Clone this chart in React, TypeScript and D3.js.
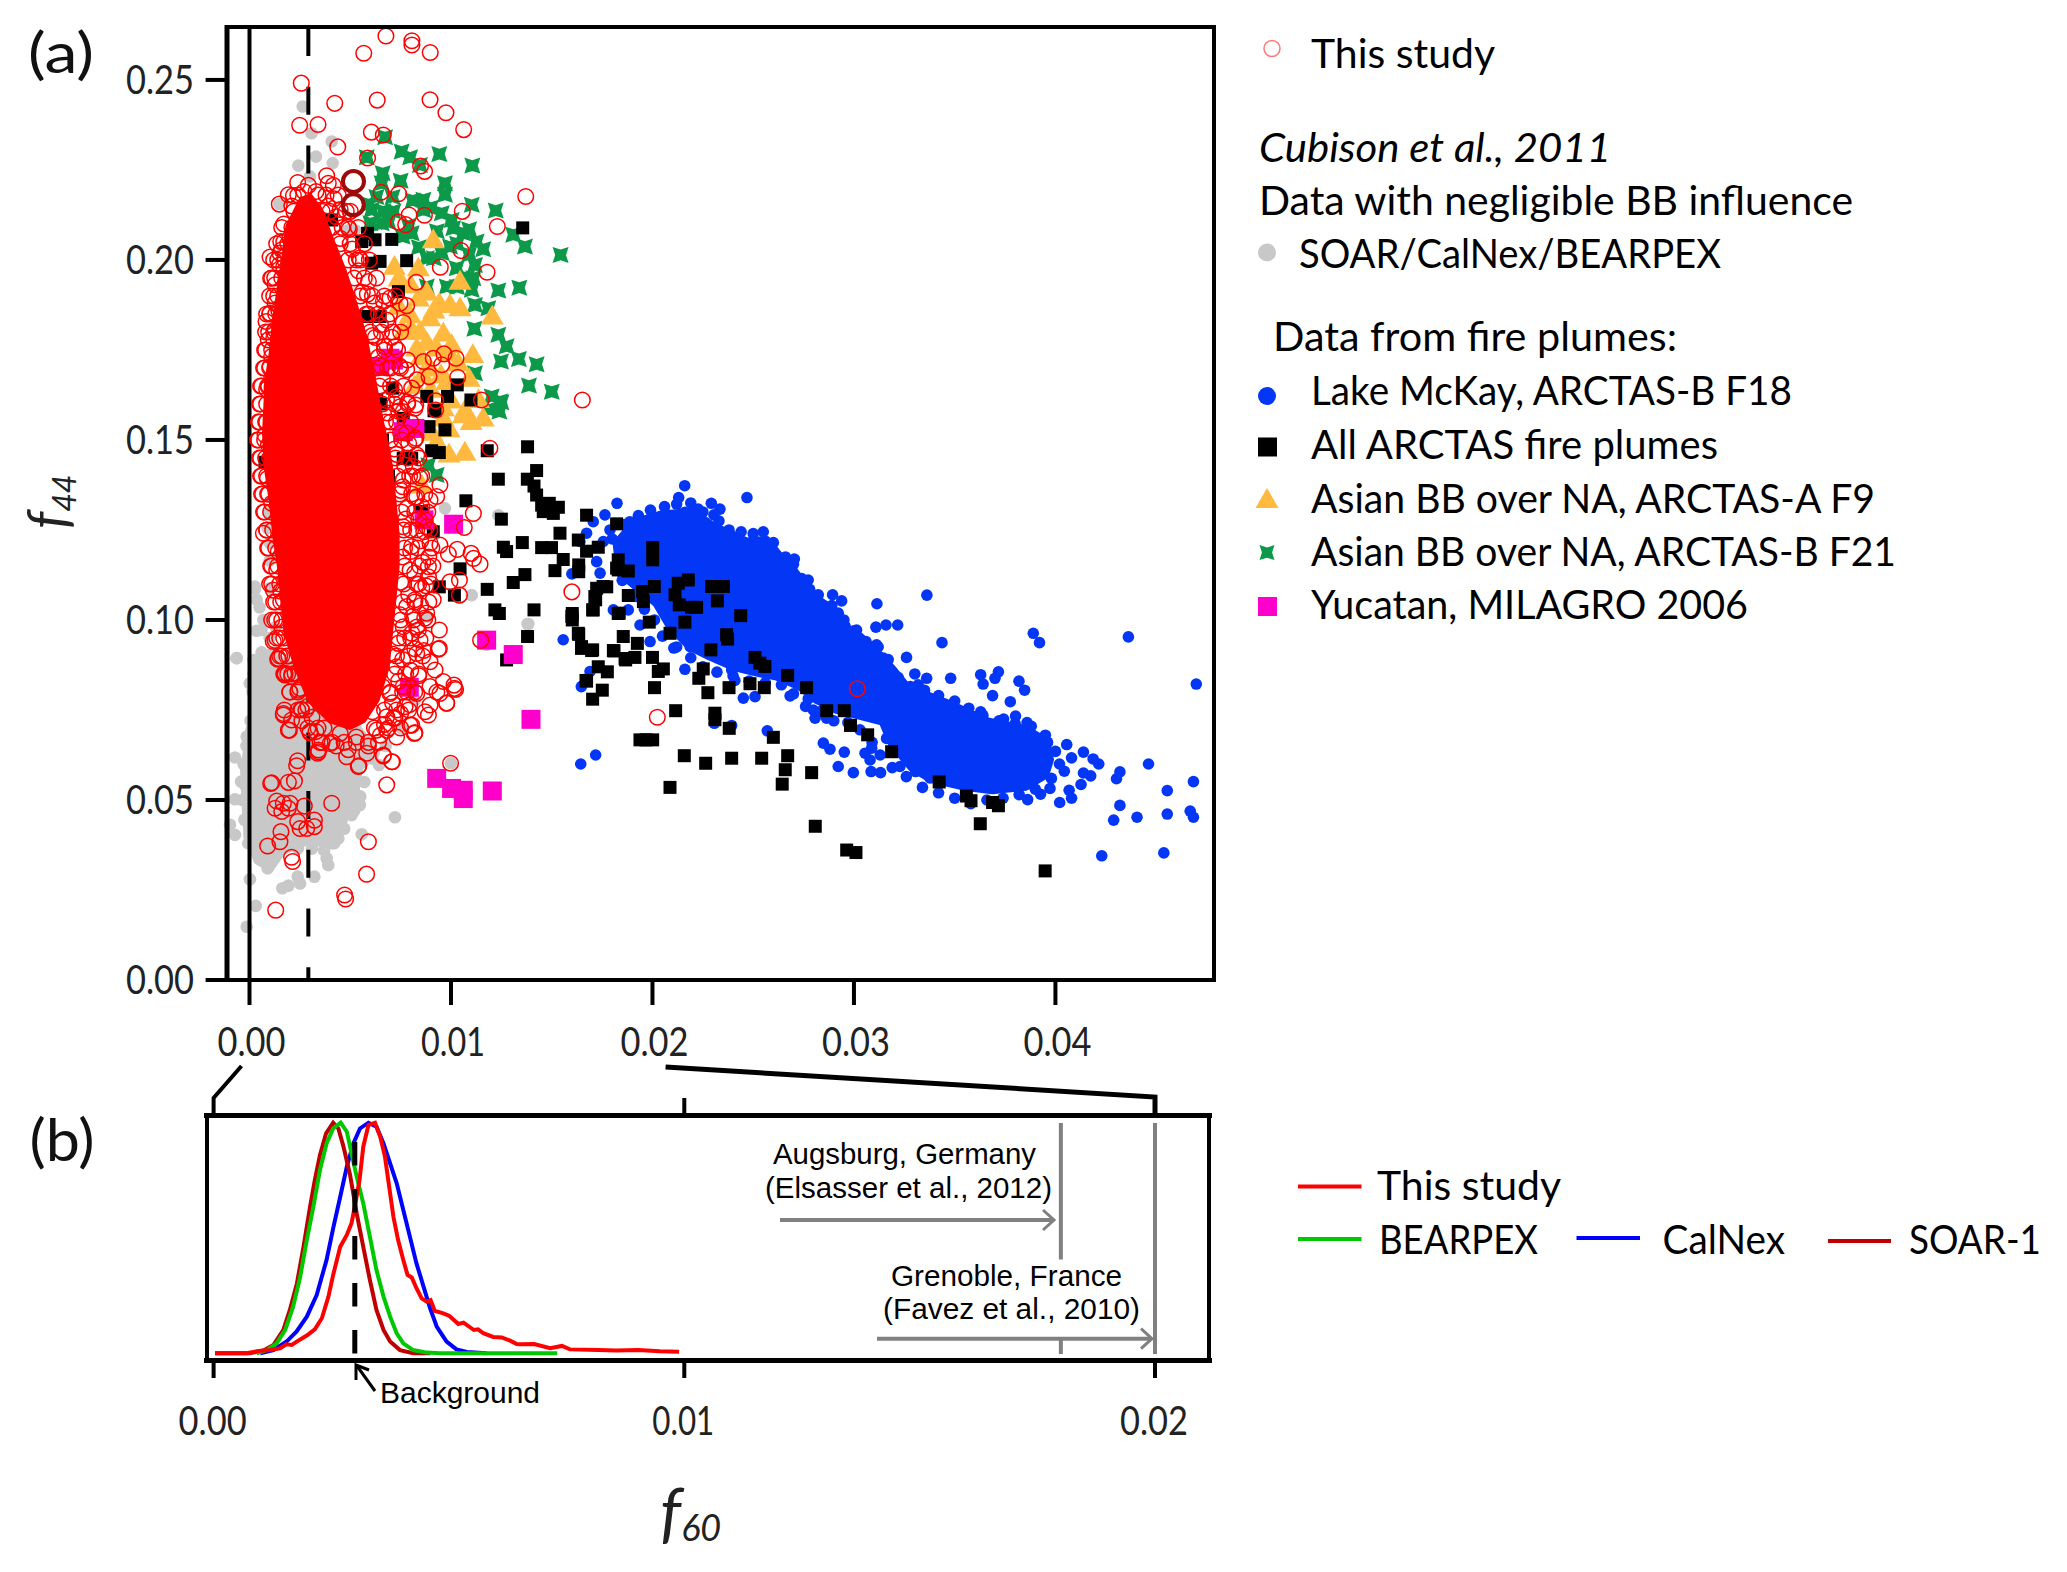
import React from "react";
import * as d3 from "d3";

type P = number[];

// All scatter values: [f60 × 1000, f44]
const redCore: P[] = [[1.93,.2093],[2.59,.2167],[3.0,.2176],[3.5,.2139],[3.99,.2065],[4.66,.1972],[5.15,.1889],[5.7,.1787],[6.2,.1648],[6.5,.1556],[6.81,.1479],[6.97,.1426],[7.14,.1333],[7.3,.1241],[7.3,.1148],[7.14,.1056],[6.97,.0963],[6.81,.087],[6.31,.0778],[5.65,.0722],[4.99,.0703],[3.99,.0722],[3.0,.0778],[2.34,.087],[1.84,.0963],[1.68,.1056],[1.51,.1148],[1.27,.1241],[1.1,.1333],[.85,.1426],[.77,.1519],[.85,.1611],[.85,.1648],[1.1,.1741],[1.27,.1833],[1.51,.1926],[1.76,.2019]];

const redOpen: P[] = [[6.77,.2622],[8.06,.2609],[8.06,.2597],[5.67,.2574],[8.97,.2576],[2.57,.2491],[6.34,.2444],[8.96,.2445],[4.23,.2435],[9.75,.2409],[2.49,.2374],[3.4,.2376],[10.63,.2362],[6.05,.2355],[6.64,.2347],[4.38,.2314],[5.86,.2283],[8.49,.2261],[8.69,.2246],[3.83,.2234],[2.39,.2215],[13.71,.2176],[6.53,.2188],[7.4,.2184],[2.92,.2207],[3.91,.2213],[4.16,.2207],[1.48,.2155],[1.93,.2181],[2.18,.2179],[7.92,.2125],[8.68,.2124],[10.56,.2135],[7.39,.2105],[7.75,.2098],[12.3,.2093],[10.5,.2026],[9.47,.198],[11.79,.1966],[8.28,.1938],[7.63,.1826],[7.8,.1873],[7.47,.188],[7.25,.19],[6.97,.1894],[6.81,.1833],[16.52,.1611],[10.25,.1727],[9.65,.1739],[9.54,.1709],[9.12,.1727],[8.63,.1718],[7.84,.1722],[7.22,.1759],[7.8,.1695],[8.91,.1676],[10.33,.1674],[8.3,.1667],[8.05,.1644],[11.51,.1611],[9.24,.1609],[8.25,.1597],[7.3,.162],[7.63,.1579],[1.02,.2008],[1.55,.2051],[1.6,.2028],[1.05,.1949],[1.27,.1931],[1.51,.2019],[1.48,.1986],[.82,.1829],[1.02,.1852],[1.27,.188],[.93,.1778],[1.27,.1806],[1.02,.1704],[.85,.1641],[1.1,.1671],[1.18,.1602],[1.1,.1732],
[.77,.1514],[.94,.1486],[.89,.1393],[1.1,.1324],[.69,.1241],[1.52,.1241],[1.43,.119],[1.35,.1139],[1.18,.1083],[1.68,.1056],[1.35,.1],[1.18,.094],[1.43,.0893],[1.76,.0852],[2.26,.0852],[2.42,.0805],[1.68,.074],[2.59,.075],[1.98,.0694],[3.0,.069],[3.42,.0639],[3.38,.063],[4.0,.0657],[4.82,.062],[5.4,.0593],[5.82,.063],[6.64,.0625],[7.09,.0606],[6.31,.0694],[6.81,.0694],[7.14,.0727],[8.18,.0685],[8.05,.0708],[7.72,.0759],[8.88,.0736],[8.96,.0764],[9.79,.0769],[9.45,.0796],[10.15,.0819],[10.23,.0807],[9.62,.0829],[8.96,.0815],[9.21,.0861],[8.96,.0884],[9.42,.0921],[9.42,.0972],[8.46,.0944],[8.38,.0972],[11.47,.0944],[9.12,.1056],[8.79,.1019],[8.55,.1088],[8.88,.112],[9.95,.1106],[10.42,.1111],[10.42,.1069],[11.44,.1155],[11.12,.1171],[11.0,.1185],[10.31,.1196],[9.87,.1183],[9.45,.1208],[8.96,.1213],[8.88,.1148],[11.11,.1296],[10.66,.1257],[11.93,.1477],[9.45,.1375],[9.29,.1343],[8.96,.1333],[8.71,.1278],[8.79,.1259],[8.3,.1458],[7.8,.1519],[16.0,.1078],[7.47,.1592],[8.21,.1588],[9.24,.1583],[8.13,.1426],[7.63,.1389],[8.3,.1342],[7.63,.1259],[8.05,.1204],[7.97,.1139],[7.8,.1037],[8.21,.1056],[7.63,.0981],[8.05,.0963],[8.3,.0907],[7.38,.0935],[7.3,.087],[7.63,.0815],[6.97,.0796],[6.81,.0731],[8.3,.0796],
[1.3,.0194],[4.72,.0236],[4.77,.0225],[5.81,.0294],[5.9,.0384],[2.09,.0341],[2.14,.0329],[.9,.0372],[1.51,.0384],[1.56,.0412],[2.39,.044],[2.51,.0421],[2.84,.0421],[3.22,.0444],[3.22,.0426],[4.08,.0491],[2.72,.0483],[2.01,.0491],[1.68,.0491],[1.35,.0497],[1.27,.0477],[1.6,.0468],[1.93,.0477],[1.05,.0546],[1.1,.0548],[1.93,.0549],[2.23,.0553],[2.34,.0595],[2.39,.0609],[5.43,.0595],[6.81,.0542],[9.98,.0602],[7.06,.0606],[6.64,.0622],[3.42,.0634],[1.93,.0694],[1.68,.0736],[1.73,.075],[2.09,.0722],[2.56,.0752],[3.0,.0687],[8.21,.0687],[7.97,.0708],[7.22,.0727],[8.71,.0745],[9.78,.0769],[10.17,.081],[1.4,.0891],[1.27,.0943],[1.76,.0847],[2.09,.0843],[9.37,.0919],[20.24,.073],[30.17,.0809],
[3.9,.215],[4.3,.212],[4.6,.209],[4.5,.206],[5.1,.203],[5.3,.2],[5.4,.197],[5.9,.194],[5.6,.191],[6.2,.188],[5.9,.185],[6.5,.182],[6.1,.179],[6.7,.176],[6.4,.173],[7.0,.17],[6.6,.167],[7.2,.164],[6.8,.161],[7.4,.158],[7.0,.155],[7.5,.152],[7.9,.149],[7.3,.146],[7.7,.143],[8.1,.14],[7.6,.137],[8.2,.134],[7.8,.131],[8.4,.128],[8.0,.125],[8.5,.122],[8.0,.119],[8.6,.116],[8.2,.113],[8.4,.11],[7.9,.107],[8.5,.104],[8.1,.101],[8.3,.098],[7.7,.095],[8.2,.092],[7.6,.089],[8.0,.086],[7.4,.083],[7.8,.08],[7.1,.077],[7.5,.074],[6.7,.071],[6.5,.068],[5.9,.065],[4.9,.064],[4.3,.065],[3.6,.066],[3.3,.069],[2.6,.072],[2.9,.076],[2.0,.08],
[1.9,.085],[1.6,.09],[1.5,.095],[1.1,.1],[1.3,.105],[1.0,.11],[1.1,.115],[.9,.12],[.85,.125],[.7,.13],[.6,.135],[.55,.14],[.55,.145],[.45,.15],[.5,.155],[.55,.16],[.6,.165],[.75,.17],[.8,.175],[.95,.18],[1.0,.185],[1.2,.19],[1.25,.195],[1.4,.2],[1.7,.205],[1.7,.21],[2.1,.215],[2.7,.219],[3.3,.219],[4.2,.217],[4.5,.214],
[7.6,.1175],[7.5,.1105],[7.45,.1015],[7.1,.0905],[6.6,.0815],[6.1,.0745],[5.3,.0675],[4.5,.0685],[3.7,.07],[7.75,.128],[7.5,.136],[7.2,.1475],[6.85,.1575],[6.55,.1705],[6.25,.1785],[5.85,.1905],[5.45,.2005],[4.95,.2085],[8.7,.1005],[8.65,.0915],[8.4,.0845],[7.95,.0765],[7.3,.0675],[8.75,.1095],[8.9,.1175],[8.65,.1245],[8.55,.1315],[8.45,.1395],[8.25,.1505],[7.85,.1605],[7.45,.1705],[7.05,.1785],[6.65,.1885],
[.95,.135],[1.0,.145],[.85,.155],[.95,.165],[1.2,.178],[1.45,.186],[1.7,.198],[2.0,.206],[1.55,.108],[1.6,.098],[1.95,.09],[2.5,.081],[3.1,.073],
[2.4,.218],[3.4,.218],[3.8,.218],[4.4,.218],[2.2,.2135],[3.6,.2135],[4.0,.2135],[4.8,.2135],[5.0,.2135],[1.6,.209],[2.1,.209],[4.1,.209],[4.9,.209],[5.4,.209],[1.35,.2045],[1.9,.2045],[4.5,.2045],[5.0,.2045],[5.7,.2045],[1.2,.2],[1.75,.2],[4.9,.2],[5.5,.2],[5.95,.2],[1.1,.195],[1.6,.195],[5.2,.195],[5.7,.195],[6.3,.195],[1.0,.19],[1.4,.19],[5.5,.19],[6.1,.19],[6.7,.19],[.85,.185],[1.3,.185],[5.8,.185],[6.4,.185],[6.95,.185],[.8,.18],[1.2,.18],[6.0,.18],[6.55,.18],[7.1,.18],[7.5,.18],[.75,.175],[1.1,.175],[6.1,.175],[6.7,.175],[7.35,.175],[.7,.17],[1.0,.17],[6.3,.17],[6.85,.17],[7.5,.17],[.55,.165],[.9,.165],[6.45,.165],[7.0,.165],[7.65,.165],[.5,.16],[.85,.16],[6.6,.16],[7.2,.16],[7.85,.16],[.45,.155],[.8,.155],[6.75,.155],[7.3,.155],[8.0,.155],[.4,.15],[.75,.15],[7.0,.15],[7.55,.15],[8.2,.15],[.5,.145],[.8,.145],[7.25,.145],[7.85,.145],[8.4,.145],[.6,.14],[.85,.14],[7.35,.14],[7.95,.14],[8.55,.14],[.65,.135],[.9,.135],[7.45,.135],[8.05,.135],[8.7,.135],[.75,.13],[1.05,.13],[7.55,.13],[8.2,.13],[8.85,.13],[.85,.125],[1.15,.125],[7.65,.125],[8.3,.125],[8.95,.125],[.95,.12],[1.3,.12],[7.7,.12],[8.35,.12],[9.05,.12],[1.05,.115],[1.4,.115],[7.7,.115],[8.45,.115],[9.1,.115],[1.1,.11],[1.5,.11],[7.65,.11],[8.3,.11],[9.0,.11],[1.2,.105],[1.55,.105],[7.6,.105],[8.2,.105],[8.9,.105],[1.25,.1],[1.6,.1],[7.5,.1],[8.15,.1],[8.85,.1],[1.35,.095],[1.7,.095],[7.4,.095],[8.0,.095],[8.75,.095],[1.5,.09],[1.85,.09],[7.3,.09],[7.9,.09],[8.6,.09],[1.7,.085],[2.1,.085],[7.2,.085],[7.75,.085],[8.4,.085],[2.0,.08],[2.4,.08],[7.0,.08],[7.6,.08],[8.2,.08],[9.3,.08],[2.4,.075],[2.8,.075],[6.7,.075],[7.3,.075],[7.9,.075],[2.9,.07],[3.4,.07],[6.2,.07],[6.9,.07],[7.5,.07],[3.5,.066],[4.1,.066],[4.7,.066],[5.3,.066],[5.9,.066],[6.4,.066]];

const redThick: P[] = [[5.16,.2218],[5.15,.2153]];

const grayCore: P[] = [[.02,.0676],[-.22,.0583],[-.14,.0481],[-.06,.0407],[.44,.0333],[1.02,.0315],[1.6,.0361],[2.92,.0389],[4.08,.038],[4.41,.0444],[5.15,.0472],[5.24,.0537],[5.4,.0593],[6.23,.063],[3.75,.0815],[.94,.0907],[.19,.088],[.27,.0769]];

const grayDots: P[] = [[-.64,.0894],[.31,.0889],[.02,.0824],[.27,.0782],[-.14,.0676],[-.72,.0618],[-.42,.0551],[-.72,.0502],[-.97,.0431],[-.72,.0403],[-.06,.038],[.9,.031],[.02,.028],[.31,.0206],[-.14,.0148],[1.63,.0255],[1.93,.0262],[2.39,.0287],[2.51,.0268],[3.22,.0287],[3.83,.0338],[3.91,.0319],[4.41,.0393],[4.08,.038],[7.22,.0452],[5.57,.0405],[5.48,.0486],[4.99,.0514],[4.61,.0518],[5.15,.0556],[4.57,.0444],[5.07,.0458],[6.43,.0597],[6.76,.065],[7.55,.0699],[10.0,.0602],[7.8,.0815],[8.21,.0778],[11.77,.0931],[13.8,.0989],[9.7,.131],[12.35,.1291],[11.03,.1069],[13.84,.0989],[1.05,.1546],[.94,.1296],[1.1,.1259],[1.02,.1213],[1.35,.1176],[.27,.1093],[1.02,.1088],[.36,.1056],[.69,.1],[.6,.0972],[-.64,.0894],[.19,.0889],[.02,.0824],[8.79,.1009],[2.64,.2426],[3.08,.2352],[4.08,.2329],[3.3,.2287],[2.42,.2262],[4.13,.2269],[1.48,.2155],[3.0,.2232],[4.91,.2083],[5.24,.2083],
[.27,.1085],[.5,.1035],[.35,.097],[.6,.091],[.2,.085],[.55,.082],[.9,.088],[.15,.08],[.45,.0765],[.05,.072],[.1,.0695],[-.15,.065],[-.3,.06],[-.2,.054],[-.35,.05],[-.25,.0445],[0,.04],[.3,.036],[.7,.033],[1.0,.0345],[1.7,.0365],[2.4,.0365],[3.1,.0365],[3.7,.036],[4.2,.038],[4.7,.042],[5.2,.047],[5.5,.051],[5.7,.055],[5.3,.058],[6.1,.0615],[5.9,.0665],[1.3,.098],[1.0,.095],[.9,.1255],[1.0,.1165],[1.2,.091],[1.6,.085],[2.0,.079],[.5,.0705],[.8,.0845]];

const blueCore: P[] = [[18.22,.1213],[18.72,.1246],[19.54,.1278],[20.37,.1292],[22.03,.1301],[23.02,.126],[24.01,.1236],[24.67,.1218],[25.66,.1223],[26.33,.1176],[26.99,.1139],[27.49,.1102],[27.98,.1065],[28.98,.1028],[29.47,.0982],[30.3,.0954],[31.12,.0912],[31.95,.0861],[32.61,.0815],[33.09,.0803],[34.98,.0761],[36.64,.0718],[38.54,.0697],[39.49,.0665],[39.73,.0612],[39.49,.0569],[38.54,.0537],[36.88,.0527],[35.46,.0537],[33.8,.0559],[32.85,.0591],[31.9,.0654],[31.42,.0718],[29.14,.075],[28.14,.0778],[27.32,.0815],[26.16,.0843],[25.33,.0852],[24.01,.087],[22.85,.0898],[21.86,.0926],[20.87,.0982],[20.2,.1046],[18.38,.113]];

const blueDots: P[] = [[21.6,.1373],[21.3,.134],[24.69,.134],[18.24,.1324],[22.92,.1324],[23.35,.1308],[23.05,.1292],[22.27,.1308],[21.61,.1299],[17.64,.1292],[17.06,.1273],[18.88,.1273],[17.89,.125],[16.73,.1241],[16.4,.1218],[17.56,.1218],[33.62,.1069],[27.73,.1111],[27.04,.1169],[28.23,.107],[28.94,.107],[29.39,.1053],[29.22,.1019],[31.14,.1045],[31.09,.098],[31.59,.0986],[32.17,.0986],[30.13,.0972],[29.56,.0983],[34.37,.0937],[32.61,.0896],[31.12,.0931],[31.46,.0894],[33.02,.085],[33.61,.0838],[33.19,.082],[34.8,.0838],[17.23,.1162],[17.4,.113],[15.57,.0945],[16.0,.1128],[16.9,.0857],[16.47,.0815],[17.18,.0625],[16.44,.06],[21.61,.0863],[21.06,.0922],[21.87,.0926],[19.38,.0986],[19.88,.094],[18.06,.1028],[18.8,.1028],[24.51,.0783],[25.09,.0787],[26.83,.0789],[27.73,.0781],[27.98,.075],[28.07,.0727],[28.64,.0727],[23.93,.0707],[23.07,.0713],[25.7,.0692],[28.48,.0658],[28.81,.0641],[29.52,.0633],[30.55,.063],[30.88,.0644],[30.8,.0611],[29.22,.0593],[29.97,.0576],[30.85,.0579],[31.32,.0576],[32.28,.0593],[31.62,.0671],[33.06,.0579],[33.77,.0561],[23.93,.0861],[24.09,.0832],[46.99,.0822],[43.62,.0953],[38.9,.0963],[39.21,.0937],[36.29,.0848],[36.41,.0822],[37.0,.0838],[37.17,.0856],[38.19,.083],[38.47,.0805],[36.88,.079],[37.76,.0773],[37.43,.0725],[38.02,.0733],[38.59,.0715],[36.29,.0745],[39.61,.066],[40.56,.0654],[41.39,.0633],[41.87,.0614],[42.15,.06],[40.8,.0617],[40.44,.058],[41.39,.0575],[41.27,.0543],[41.75,.0567],[40.68,.0527],[40.8,.0505],[40.21,.0493],[39.73,.0532],[39.26,.0516],[38.62,.0501],[43.2,.0578],[43.03,.0559],[44.62,.06],[46.85,.0551],[45.55,.0526],[43.2,.0485],[42.89,.0444],[44.05,.0452],[45.55,.0461],[46.69,.0469],[46.85,.0452],[42.3,.0345],[45.38,.0353],
[18.0,.1225],[18.6,.1265],[19.3,.129],[19.9,.1305],[20.6,.1315],[21.2,.1322],[21.9,.1325],[22.5,.13],[23.3,.1275],[23.8,.125],[24.4,.1245],[25.0,.124],[25.5,.1245],[26.0,.1215],[26.6,.1175],[27.0,.1155],[27.4,.1115],[27.8,.1085],[28.3,.1045],[28.9,.104],[29.5,.1],[30.0,.097],[30.6,.094],[31.2,.0925],[31.7,.089],[32.2,.084],[32.8,.0815],[33.5,.0805],[34.2,.079],[35.0,.0775],[35.7,.0755],[36.4,.0735],[37.2,.072],[38.0,.0712],[38.8,.0705],[39.5,.068],[18.5,.111],[19.2,.1065],[19.6,.103],[20.1,.1],[20.5,.0955],[21.2,.0925],[21.9,.0895],[22.5,.087],[23.2,.0855],[24.0,.0845],[24.8,.083],[25.6,.0825],[26.4,.082],[27.0,.0795],[27.6,.076],[28.3,.0745],[29.0,.072],[29.7,.0715],[30.3,.0695],[30.9,.066],[31.3,.0625],[31.9,.059],[32.6,.0565],[33.4,.0535],[34.2,.052],[35.0,.0505],[35.8,.049],[36.6,.05],[37.4,.0505],[38.2,.0515],[39.0,.053],[39.8,.056],[40.2,.06],[40.0,.0635]];

const blackSquares: P[] = [[13.56,.2089],[5.86,.2074],[6.23,.2056],[7.06,.2057],[5.57,.2051],[6.48,.1996],[6.06,.1991],[7.8,.1998],[7.39,.1912],[5.81,.1843],[6.48,.1843],[10.31,.1653],[8.8,.1621],[9.83,.1621],[10.99,.1611],[9.16,.1581],[7.11,.1644],[6.31,.1611],[7.63,.156],[4.08,.2111],[6.0,.17],[6.5,.16],[6.3,.155],[6.6,.15],[6.9,.14],
[13.8,.1481],[9.7,.1528],[8.91,.1537],[9.21,.1583],[9.04,.147],[9.42,.1465],[11.8,.147],[7.63,.1449],[8.05,.1449],[.77,.1438],[12.35,.1391],[14.25,.1415],[13.79,.1391],[14.12,.1372],[14.25,.1347],[14.5,.1319],[14.88,.1324],[15.33,.1313],[14.58,.1301],[15.08,.1296],[10.74,.1331],[8.55,.1301],[12.5,.128],[16.73,.1291],[18.22,.1267],[15.41,.1241],[9.12,.1245],[13.54,.1215],[12.6,.1202],[12.76,.119],[14.5,.1201],[14.99,.1201],[16.32,.1222],[16.73,.1191],[17.31,.1202],[15.57,.1168],[15.16,.1137],[16.34,.1153],[16.34,.1134],[10.45,.1142],[13.67,.1126],[13.09,.1104],[9.42,.1092],[11.8,.1085],[10.17,.1069],[18.3,.1167],[18.3,.1139],[17.23,.1088],[17.73,.1092],[17.18,.1056],[17.03,.1028],[12.18,.1028],[12.4,.1018],[14.12,.1028],[16.02,.1018],[16.02,.1],[18.3,.1018],[18.55,.0954],[13.8,.0954],[16.34,.096],[16.48,.0921],[16.98,.0915],[18.06,.0915],[18.64,.0893],[12.76,.0889],[17.31,.087],[17.76,.0856],[16.73,.083],[17.51,.0805],[17.03,.078],
[20.01,.1201],[20.01,.1167],[18.22,.1144],[18.8,.1136],[21.78,.1111],[21.28,.1102],[20.09,.1093],[19.51,.1079],[18.8,.1068],[21.12,.107],[21.33,.1042],[19.55,.1051],[21.94,.1035],[22.19,.1035],[22.94,.1093],[23.52,.1093],[23.22,.1053],[24.38,.1012],[21.61,.0994],[19.84,.0994],[18.35,.1019],[17.06,.1028],[17.55,.1093],[17.14,.1065],[16.0,.101],[16.32,.0963],[16.48,.0926],[17.03,.0917],[20.87,.0963],[19.25,.0935],[18.09,.0914],[18.67,.0889],[19.13,.0896],[20.0,.0896],[23.68,.0959],[23.73,.0947],[22.9,.0917],[25.09,.0896],[25.33,.088],[25.58,.0871],[22.52,.0864],[22.3,.0838],[20.54,.0864],[20.29,.0857],[16.7,.0832],[20.1,.0812],[22.75,.0798],[23.8,.0812],[24.84,.0823],[25.55,.0812],[26.71,.0846],[27.65,.0812],[28.65,.0748],[29.52,.0748],[29.83,.0707],[30.68,.0681],[31.87,.0634],[34.23,.055],[21.15,.0748],[23.1,.0741],[23.1,.0723],[23.81,.0699],[26.0,.0674],[19.38,.0667],[19.68,.0667],[20.01,.0667],[21.58,.0623],[22.64,.0602],[23.93,.0616],[25.42,.0616],[26.71,.0623],[26.59,.0584],[27.9,.0576],[26.44,.0544],[20.87,.0535],[28.08,.0427],[29.64,.0361],[30.1,.0354],[35.58,.0511],[35.81,.0498],[36.88,.0493],[37.17,.0484],[36.27,.0434],[39.49,.0303]];

const greenStars: P[] = [[6.73,.2341],[7.55,.2301],[5.82,.2285],[7.97,.2285],[9.42,.2294],[11.06,.2262],[8.46,.2264],[6.61,.2241],[7.5,.222],[6.56,.2213],[9.7,.2213],[9.7,.2181],[8.63,.2167],[11.03,.2153],[12.22,.2137],[6.06,.2139],[6.64,.2135],[7.14,.2135],[8.63,.2139],[9.54,.213],[10.03,.2111],[6.0,.2102],[6.56,.2102],[8.05,.2074],[10.11,.2088],[10.61,.2074],[11.27,.2051],[11.6,.203],[13.09,.207],[13.67,.2037],[15.44,.2014],[8.8,.2005],[9.54,.2019],[9.95,.2037],[11.19,.1986],[10.28,.1977],[11.11,.1949],[12.35,.1915],[13.39,.1923],[8.8,.1926],[9.79,.1926],[11.03,.1917],[11.19,.1875],[11.85,.1866],[11.16,.1809],[12.35,.1792],[12.76,.176],[13.37,.1725],[12.48,.1718],[14.25,.171],[11.19,.1685],[13.87,.1651],[15.0,.1634],[12.02,.1621],[12.43,.1607],[12.4,.1579],[8.87,.143],[9.29,.1403],
[8.1,.2165],[9.0,.2145],[9.3,.208],[8.4,.2035],[10.3,.2045],[10.9,.2015],[10.8,.195],[10.9,.2085],[6.9,.2105],[7.6,.2065],[7.1,.2175],[7.9,.2095],[9.15,.2005],[10.3,.1925],[12.5,.1605],[11.9,.1585],[6.3,.2175],[5.9,.2155]];

const orangeTriangles: P[] = [[9.12,.206],[7.19,.1986],[8.38,.1982],[7.42,.1954],[10.45,.1945],[8.38,.1898],[9.42,.1884],[9.95,.188],[10.45,.1871],[12.05,.1848],[7.97,.1852],[8.96,.1843],[9.62,.1801],[7.63,.1806],[8.46,.1806],[10.03,.1769],[11.08,.1741],[8.3,.1759],[9.29,.1759],[10.36,.1718],[8.96,.1704],[9.79,.1667],[11.36,.1616],[10.7,.1588],[9.62,.1593],[11.6,.1565],[10.69,.147],[9.29,.15],[8.55,.1379],[10.61,.1574],[9.62,.1565],
[8.8,.1915],[9.15,.1865],[8.0,.1935],[8.8,.1775],[9.9,.1745],[8.6,.1685],[9.5,.1685],[10.0,.1615],[9.0,.1645],[8.5,.1735],[10.9,.1675],[11.0,.1555],[9.9,.1535],[9.9,.1465],[8.2,.1655],[9.05,.1525],[8.0,.1815],[7.4,.1875]];

const magentaSquares: P[] = [[8.21,.1532],[7.63,.1523],[8.66,.1278],[10.13,.1266],[11.77,.0944],[13.09,.0904],[13.97,.0724],[7.93,.0813],[9.29,.056],[10.03,.0532],[10.61,.0527],[10.61,.0504],[12.05,.0525],[6.97,.1727],[7.14,.1722],[6.47,.1704]];

// panel (b): [f60 × 1000, normalised frequency]
const soarCurve: P[] = [[.03,0],[.77,0],[1.06,.012],[1.27,.036],[1.48,.101],[1.62,.188],[1.77,.303],[1.91,.462],[2.05,.636],[2.15,.751],[2.26,.86],[2.39,.954],[2.54,1],[2.65,.975],[2.76,.896],[2.9,.773],[3.04,.607],[3.18,.462],[3.32,.318],[3.46,.188],[3.61,.101],[3.75,.051],[3.96,.014],[4.24,0],[4.6,0]];
const bearpexCurve: P[] = [[.91,0],[1.13,.014],[1.34,.043],[1.52,.101],[1.69,.202],[1.84,.332],[1.98,.491],[2.12,.636],[2.26,.795],[2.4,.91],[2.54,.975],[2.7,1],[2.83,.961],[2.93,.867],[3.04,.766],[3.18,.65],[3.32,.506],[3.46,.361],[3.61,.246],[3.75,.159],[3.89,.087],[4.03,.043],[4.24,.014],[4.53,.003],[4.81,0],[7.3,0]];
const calnexCurve: P[] = [[.99,0],[1.27,.014],[1.55,.051],[1.76,.094],[1.98,.159],[2.19,.253],[2.4,.405],[2.54,.542],[2.69,.679],[2.83,.809],[2.97,.91],[3.11,.975],[3.29,1],[3.46,.983],[3.61,.91],[3.75,.824],[3.89,.737],[4.03,.621],[4.17,.506],[4.31,.39],[4.46,.289],[4.6,.195],[4.74,.116],[4.95,.051],[5.16,.017],[5.38,.006],[5.8,0]];
const thisStudyCurve: P[] = [[.03,0],[.7,0],[.95,.01],[1.2,.014],[1.41,.022],[1.55,.039],[1.66,.036],[1.8,.055],[1.98,.077],[2.15,.104],[2.3,.152],[2.44,.246],[2.54,.34],[2.69,.462],[2.83,.513],[2.93,.564],[3.0,.636],[3.1,.751],[3.18,.896],[3.29,.99],[3.43,1],[3.54,.939],[3.64,.853],[3.75,.694],[3.82,.592],[3.92,.491],[4.03,.405],[4.12,.34],[4.21,.329],[4.31,.282],[4.42,.238],[4.53,.224],[4.61,.231],[4.7,.184],[4.88,.173],[5.01,.162],[5.2,.127],[5.31,.133],[5.53,.101],[5.62,.104],[5.73,.087],[5.94,.071],[6.12,.069],[6.3,.055],[6.44,.04],[6.51,.039],[6.81,.04],[7.15,.022],[7.4,.032],[7.57,.017],[8.17,.014],[8.56,.012],[9.02,.014],[9.48,.009],[9.89,.007]];

const xTicksA = [0, 10, 20, 30, 40];
const yTicksA = [0, 0.05, 0.1, 0.15, 0.2, 0.25];
const xTicksB = [0, 10, 20];
const backgroundF60 = 2.92;
const markerAugsburg = 18;
const markerGrenoble = 20;

const UI = "Lato, sans-serif";
const GILL = "Lato, sans-serif";
const NARROW = "'Liberation Sans', Arial, sans-serif";

const xA = d3.scaleLinear().domain([-1.117, 47.87]).range([227, 1214]);
const yA = d3.scaleLinear().domain([0, 0.2647]).range([980, 27]);
const xB = d3.scaleLinear().domain([0, 20]).range([213.6, 1155]);
const yB = d3.scaleLinear().domain([0, 1]).range([1353.3, 1122.7]);

const star4 = {
  draw(ctx: any, size: number) {
    const r = Math.sqrt(size) / 2;
    const q = r * 0.68;
    ctx.moveTo(-r, -r);
    ctx.lineTo(0, -q);
    ctx.lineTo(r, -r);
    ctx.lineTo(q, 0);
    ctx.lineTo(r, r);
    ctx.lineTo(0, q);
    ctx.lineTo(-r, r);
    ctx.lineTo(-q, 0);
    ctx.closePath();
  },
};
const triangleSym = {
  draw(ctx: any, size: number) {
    const w = Math.sqrt(size) * 1.15;
    const h = w * 0.86;
    ctx.moveTo(0, -h / 2);
    ctx.lineTo(w / 2, h / 2);
    ctx.lineTo(-w / 2, h / 2);
    ctx.closePath();
  },
};
const sym = (t: any, s: number) => d3.symbol().type(t).size(s)() as string;
const squarePathBlack = sym(d3.symbolSquare, 13 * 13);
const squarePathMagenta = sym(d3.symbolSquare, 19 * 19);
const starPath = sym(star4, 16 * 16);
const triPath = sym(triangleSym, 20 * 20);

const polyA = d3.line<P>().x((d) => xA(d[0])).y((d) => yA(d[1])).curve(d3.curveLinearClosed);
const lineB = d3.line<P>().x((d) => xB(d[0])).y((d) => yB(d[1]));
const fmt2 = d3.format(".2f");

function T(p: any) {
  const { x, y, w, size = 41, font = UI, anchor = "start", children, ...rest } = p;
  return (
    <text x={x} y={y} fontFamily={font} fontSize={size} textAnchor={anchor} fill="#000" textLength={w} lengthAdjust="spacingAndGlyphs" {...rest}>
      {children}
    </text>
  );
}

export default function App() {
  return (
    <svg width={2067} height={1572} viewBox="0 0 2067 1572" style={{ position: "absolute", left: 0, top: 0, display: "block", background: "#fff" }}>
      {/* panel (a) marks */}
      <path d={polyA(grayCore) as string} fill="#c8c8c8" stroke="#c8c8c8" strokeWidth={10} strokeLinejoin="round" />
      {grayDots.map((d, i) => <circle key={i} cx={xA(d[0])} cy={yA(d[1])} r={6.3} fill="#c8c8c8" />)}
      <path d={polyA(blueCore) as string} fill="#0437f5" stroke="#0437f5" strokeWidth={8} strokeLinejoin="round" />
      {blueDots.map((d, i) => <circle key={i} cx={xA(d[0])} cy={yA(d[1])} r={5.8} fill="#0437f5" />)}
      {greenStars.map((d, i) => <path key={i} d={starPath} transform={`translate(${xA(d[0])},${yA(d[1])})`} fill="#0c9a4a" />)}
      {orangeTriangles.map((d, i) => <path key={i} d={triPath} transform={`translate(${xA(d[0])},${yA(d[1])})`} fill="#ffb93f" />)}
      {blackSquares.map((d, i) => <path key={i} d={squarePathBlack} transform={`translate(${xA(d[0])},${yA(d[1])})`} fill="#000" />)}
      {magentaSquares.map((d, i) => <path key={i} d={squarePathMagenta} transform={`translate(${xA(d[0])},${yA(d[1])})`} fill="#ff00cc" />)}

      {/* reference lines */}
      <line x1={xA(0)} x2={xA(0)} y1={27} y2={980} stroke="#000" strokeWidth={4} />
      <line x1={xA(backgroundF60)} x2={xA(backgroundF60)} y1={28} y2={980} stroke="#000" strokeWidth={4} strokeDasharray="28 30.7" />

      <path d={polyA(redCore) as string} fill="#ff0000" stroke="#ff0000" strokeWidth={6} strokeLinejoin="round" />
      {redOpen.map((d, i) => <circle key={i} cx={xA(d[0])} cy={yA(d[1])} r={7.8} fill="none" stroke="#ff0000" strokeWidth={1.5} />)}
      {redThick.map((d, i) => <circle key={i} cx={xA(d[0])} cy={yA(d[1])} r={10.5} fill="none" stroke="#9c0a0a" strokeWidth={4} />)}

      {/* frame (a) */}
      <rect x={227} y={27} width={987} height={953} fill="none" stroke="#000" strokeWidth={4} />
      <line x1={227} x2={227} y1={25} y2={982} stroke="#000" strokeWidth={5} />
      {yTicksA.map((t) => (
        <g key={t}>
          <line x1={205.6} x2={227} y1={yA(t)} y2={yA(t)} stroke="#000" strokeWidth={4} />
          <T x={194} y={yA(t) + 14} w={68} size={40} font={GILL} anchor="end" fill="#222">{fmt2(t)}</T>
        </g>
      ))}
      {xTicksA.map((t) => (
        <g key={t}>
          <line x1={xA(t)} x2={xA(t)} y1={980} y2={1005} stroke="#000" strokeWidth={4} />
          <T x={xA(t) + 2} y={1056} w={t === 10 ? 64 : 68} size={40} font={GILL} anchor="middle" fill="#222">{fmt2(t / 1000)}</T>
        </g>
      ))}
      <T x={28} y={73} w={66} size={56} fill="#111">(a)</T>
      <text transform="translate(66,529) rotate(-90)" fontFamily={GILL} fontStyle="italic" fontSize={54} fill="#222">
        f<tspan fontSize={32} dy={10}>44</tspan>
      </text>

      {/* legend (a) */}
      <circle cx={1272} cy={48.5} r={8} fill="none" stroke="#f77" strokeWidth={1.5} />
      <T x={1311} y={68} w={184}>This study</T>
      <T x={1259} y={161.5} w={352} fontStyle="italic">Cubison et al., 2011</T>
      <T x={1259} y={215} w={594}>Data with negligible BB influence</T>
      <circle cx={1267} cy={252.5} r={9} fill="#c8c8c8" />
      <T x={1299} y={267.5} w={422}>SOAR/CalNex/BEARPEX</T>
      <T x={1273} y={350.5} w={404}>Data from fire plumes:</T>
      <circle cx={1267} cy={396} r={9} fill="#0437f5" />
      <T x={1311} y={405} w={481}>Lake McKay, ARCTAS-B F18</T>
      <rect x={1258} y={437.5} width={19} height={19} fill="#000" />
      <T x={1311} y={458.5} w={407}>All ARCTAS fire plumes</T>
      <path d={sym(triangleSym, 20 * 20)} transform="translate(1267,498)" fill="#ffb93f" />
      <T x={1311} y={512.5} w={564}>Asian BB over NA, ARCTAS-A F9</T>
      <path d={sym(star4, 15 * 15)} transform="translate(1267,552.6)" fill="#0c9a4a" />
      <T x={1311} y={565.5} w={585}>Asian BB over NA, ARCTAS-B F21</T>
      <rect x={1258} y={597} width={19} height={19} fill="#ff00cc" />
      <T x={1311} y={619} w={437}>Yucatan, MILAGRO 2006</T>

      {/* connector between panels */}
      <polyline points={`241.5,1066 ${xB(0)},1098 ${xB(0)},1115`} fill="none" stroke="#000" strokeWidth={4} />
      <polyline points={`665.6,1067 ${xB(20)},1097 ${xB(20)},1115`} fill="none" stroke="#000" strokeWidth={5} />
      <line x1={xB(10)} x2={xB(10)} y1={1098} y2={1115} stroke="#000" strokeWidth={4} />

      {/* panel (b) */}
      <line x1={xB(markerAugsburg)} x2={xB(markerAugsburg)} y1={1123} y2={1259.5} stroke="#808080" strokeWidth={4} />
      <line x1={xB(markerAugsburg)} x2={xB(markerAugsburg)} y1={1339} y2={1354} stroke="#808080" strokeWidth={4} />
      <line x1={xB(markerGrenoble)} x2={xB(markerGrenoble)} y1={1123} y2={1354} stroke="#808080" strokeWidth={4} />
      <path d={lineB(calnexCurve) as string} fill="none" stroke="#0000ff" strokeWidth={4} />
      <path d={lineB(soarCurve) as string} fill="none" stroke="#c00000" strokeWidth={4} />
      <path d={lineB(bearpexCurve) as string} fill="none" stroke="#00c800" strokeWidth={4} />
      <path d={lineB(thisStudyCurve) as string} fill="none" stroke="#ff0000" strokeWidth={4} />
      <line x1={xB(3)} x2={xB(3)} y1={1142} y2={1354} stroke="#000" strokeWidth={5} strokeDasharray="23.5 23.5" />

      <rect x={207} y={1115.5} width={1002} height={245} fill="none" stroke="#000" strokeWidth={4} />
      <line x1={204} x2={1212} y1={1115.5} y2={1115.5} stroke="#000" strokeWidth={5} />
      <line x1={204} x2={1212} y1={1360.5} y2={1360.5} stroke="#000" strokeWidth={5} />
      {xTicksB.map((t) => (
        <g key={t}>
          <line x1={xB(t)} x2={xB(t)} y1={1360} y2={1378} stroke="#000" strokeWidth={4} />
          <T x={xB(t) - 1} y={1435} w={t === 10 ? 62 : 68} size={40} font={GILL} anchor="middle" fill="#222">{fmt2(t / 1000)}</T>
        </g>
      ))}
      <T x={29.5} y={1161} w={65} size={58} fill="#111">(b)</T>

      <T x={773} y={1164} w={263} size={29} font={NARROW}>Augsburg, Germany</T>
      <T x={765} y={1198} w={287} size={29} font={NARROW}>(Elsasser et al., 2012)</T>
      <line x1={780} x2={1053} y1={1220} y2={1220} stroke="#808080" strokeWidth={4} />
      <polyline points="1043,1210 1054,1220 1043,1230" fill="none" stroke="#808080" strokeWidth={3} />
      <T x={891} y={1286} w={231} size={29} font={NARROW}>Grenoble, France</T>
      <T x={883} y={1319} w={257} size={29} font={NARROW}>(Favez et al., 2010)</T>
      <line x1={877} x2={1151} y1={1338.7} y2={1338.7} stroke="#808080" strokeWidth={4} />
      <polyline points="1141,1328.7 1152,1338.7 1141,1348.7" fill="none" stroke="#808080" strokeWidth={3} />
      <T x={380} y={1403} w={160} size={29} font={NARROW}>Background</T>
      <line x1={375} y1={1391} x2={357} y2={1366} stroke="#000" strokeWidth={3} />
      <polyline points="356,1380 356,1365 369,1370" fill="none" stroke="#000" strokeWidth={3} />

      <text x={660} y={1535} fontFamily={GILL} fontStyle="italic" fontSize={66} fill="#222">
        f<tspan fontSize={36} dy={6}>60</tspan>
      </text>

      {/* legend (b) */}
      <line x1={1298} x2={1361.5} y1={1186.6} y2={1186.6} stroke="#ff0000" strokeWidth={4} />
      <T x={1377} y={1200} w={184}>This study</T>
      <line x1={1298} x2={1361.5} y1={1239} y2={1239} stroke="#00c800" strokeWidth={4} />
      <T x={1379} y={1254} w={159}>BEARPEX</T>
      <line x1={1576.5} x2={1640} y1={1238} y2={1238} stroke="#0000ff" strokeWidth={4} />
      <T x={1662.5} y={1254} w={122.5}>CalNex</T>
      <line x1={1828} x2={1891} y1={1241} y2={1241} stroke="#c00000" strokeWidth={4} />
      <T x={1909} y={1254} w={132}>SOAR-1</T>
    </svg>
  );
}
